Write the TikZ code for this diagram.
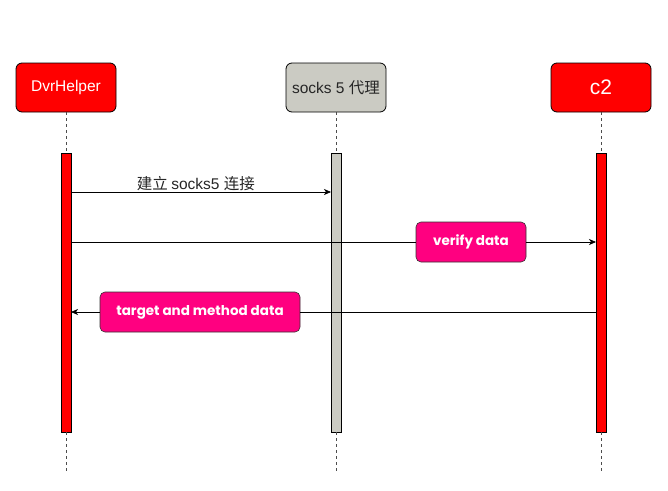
\documentclass[tikz,border=0pt]{standalone}
\usepackage{fontspec}
\setmainfont{Liberation Sans}
\newfontfamily\cjkfont{Noto Sans CJK SC}
\newfontfamily\labfont{Poppins}
\usetikzlibrary{arrows.meta}
\definecolor{actred}{HTML}{FF0000}
\definecolor{proxygrey}{HTML}{CBCBC3}
\definecolor{msgpink}{HTML}{FF0080}
\tikzset{
  actor/.style={draw=black, line width=0.8pt, rounded corners=6pt, minimum width=100pt, minimum height=49pt, inner sep=0pt, font=\fontsize{15.5}{18}\selectfont},
  actbar/.style={draw=black, line width=0.8pt, minimum width=10pt, minimum height=279pt, inner sep=0pt},
  life/.style={draw=black!70, dashed, dash pattern=on 3pt off 3pt, line width=0.8pt},
  msg/.style={draw=black, line width=0.7pt, -{Stealth[length=7pt,width=6pt,inset=2pt]}},
  msgbox/.style={draw=black!80, line width=0.6pt, fill=msgpink, rounded corners=5pt, minimum height=40pt, inner sep=0pt, text=white, font=\labfont\bfseries\fontsize{13.5}{16}\selectfont},
}
\begin{document}
\begin{tikzpicture}[x=1pt,y=-1pt]
\useasboundingbox (0,0) rectangle (668,490);
% actors
\node[actor, fill=actred, text=white] (dvr) at (66,87.5) {DvrHelper};
\node[actor, fill=proxygrey, text=black!85] (sox) at (336,87.5) {socks 5 \cjkfont 代理};
\node[actor, fill=actred, text=white, font=\fontsize{21}{24}\selectfont] (ctwo) at (601,87.5) {c2};
% lifeline ends
\coordinate (dvrend) at (66,472);
\coordinate (soxend) at (336,472);
\coordinate (ctwoend) at (601,472);
% activation bars
\node[actbar, fill=actred] (dvrbar) at (66,292.5) {};
\node[actbar, fill=proxygrey] (soxbar) at (336,292.5) {};
\node[actbar, fill=actred] (ctwobar) at (601,292.5) {};
% lifelines
\draw[life] (dvr.south) -- (dvrbar.north);
\draw[life] (dvrbar.south) -- (dvrend);
\draw[life] (sox.south) -- (soxbar.north);
\draw[life] (soxbar.south) -- (soxend);
\draw[life] (ctwo.south) -- (ctwobar.north);
\draw[life] (ctwobar.south) -- (ctwoend);
% message 1
\coordinate (m1a) at (71,192);
\coordinate (m1b) at (331,192);
\path (m1a) -- node[pos=0.48, above=-1pt, font=\fontsize{15.5}{18}\selectfont, text=black!85, inner sep=2pt] (m1lab) {\cjkfont 建立 \rmfamily socks5 \cjkfont 连接} (m1b);
\draw[msg] (m1a) -- (m1b);
% message 2
\coordinate (m2a) at (71,242);
\coordinate (m2b) at (596,242);
\node[msgbox, minimum width=110pt] (vbox) at (471,242) {verify data};
\draw[line width=0.7pt] (m2a) -- (vbox.west);
\draw[msg] (vbox.east) -- (m2b);
% message 3
\coordinate (m3a) at (596,312);
\coordinate (m3b) at (71,312);
\node[msgbox, minimum width=200pt] (tbox) at (200,312) {target and method data};
\draw[line width=0.7pt] (m3a) -- (tbox.east);
\draw[msg] (tbox.west) -- (m3b);
\end{tikzpicture}
\end{document}
